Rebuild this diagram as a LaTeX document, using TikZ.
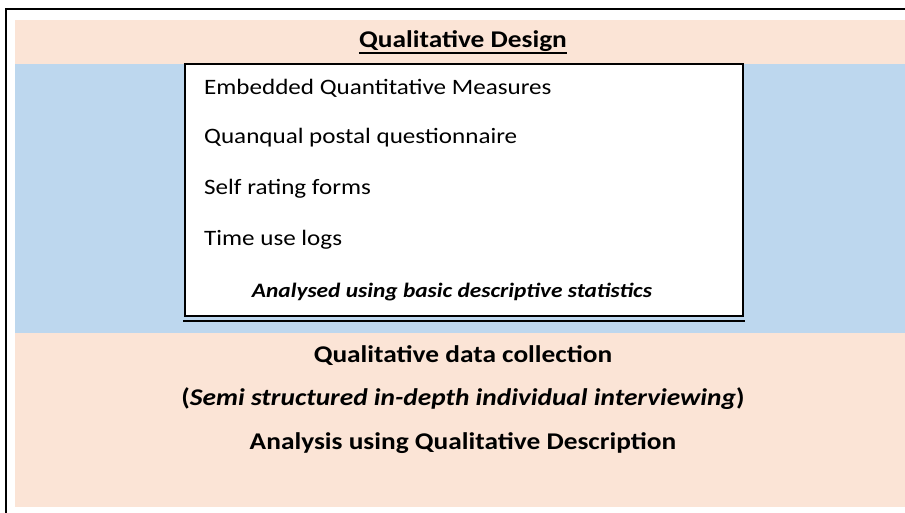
\documentclass[tikz,border=0pt]{standalone}
\usepackage{fontspec}
\setmainfont{Carlito}[FakeStretch=1.14]
\usetikzlibrary{positioning}
\definecolor{bandPeach}{RGB}{251,228,214}
\definecolor{bandBlue}{RGB}{189,215,238}
\tikzset{
  itemText/.style={anchor=base west, inner sep=0pt, font=\fontsize{22}{26}\selectfont},
  mainText/.style={anchor=base, inner sep=0pt, font=\fontsize{24}{28}\selectfont\bfseries}
}
\begin{document}
\begin{tikzpicture}[x=1pt, y=-1pt]
    \useasboundingbox (0,0) rectangle (905,513);
    % bands
    \fill[bandPeach] (15,20) rectangle (905,64);
    \fill[bandBlue] (15,64) rectangle (905,333);
    \fill[bandPeach] (15,333) rectangle (905,507);
    \draw[line width=2pt] (6,513) -- (6,9) -- (905,9);

    \node[mainText] (design) at (463,48) {Qualitative Design};
    \draw[line width=1.8pt] ([yshift=-5pt]design.base west) -- ([yshift=-5pt]design.base east);

    % embedded measures
    \draw[fill=white, line width=1.5pt] (185,64) rectangle (743,316);
    \coordinate (boxL) at (183,321);
    \coordinate (boxR) at (745,321);
    \draw[line width=2.5pt] (boxL) -- (boxR);
    \node[itemText] (embedded) at (204,95) {Embedded Quantitative Measures};
    \node[itemText] (postal) at (204,144) {Quanqual postal questionnaire};
    \node[itemText] (rating) at (204,195) {Self rating forms};
    \node[itemText] (logs) at (204,245) {Time use logs};
    \node[anchor=base, inner sep=0pt, font=\fontsize{20.5}{24}\selectfont\bfseries\itshape] (analysed) at (452,298) {Analysed using basic descriptive statistics};

    % qualitative part
    \node[mainText] (collection) at (463,362) {Qualitative data collection};
    \node[mainText] (interview) at (463,405) {(\textit{Semi structured in-depth individual interviewing})};
    \node[mainText] (description) at (463,449) {Analysis using Qualitative Description};
\end{tikzpicture}
\end{document}
